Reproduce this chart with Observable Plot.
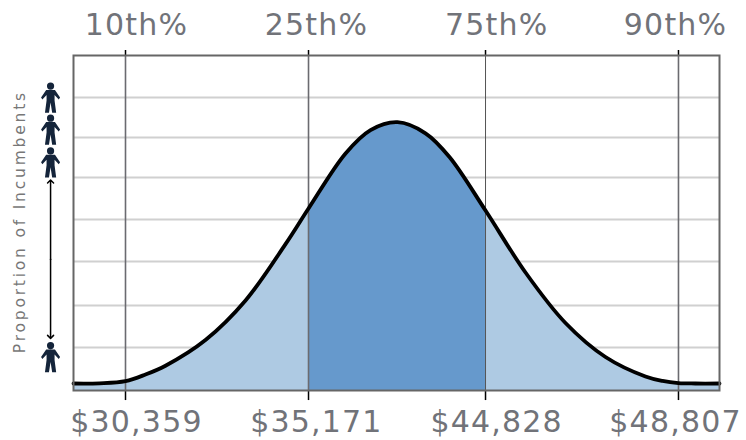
<!DOCTYPE html>
<html>
<head>
<meta charset="utf-8">
<style>
html,body{margin:0;padding:0;background:#fff;}
svg{display:block;}
.big text{letter-spacing:1.2px;}
.side text{letter-spacing:2.8px;}
</style>
<script src="https://cdn.jsdelivr.net/npm/d3@7"></script>
<script src="https://cdn.jsdelivr.net/npm/@observablehq/plot@0.6"></script>
</head>
<body>
<div id="chart"></div>
<script>
// x is position along the axis in percent, y is proportion in percent of the plot height
const curveX = [0,4.02,8.05,11.15,14.24,20.43,26.63,32.82,36.38,42.11,45.98,50.15,54.49,58.2,63.78,69.97,76.16,82.35,88.54,91.18,93.65,96.28,100];
const curveY = [2.09,2.15,2.78,4.78,7.4,15.07,26.87,43.7,54.33,70.75,77.73,80.09,76.78,69.7,53.73,35.22,20.15,10,4.18,2.84,2.21,2.09,2.09];
const gridY = [87.46,75.52,63.58,51.04,38.51,25.37,12.84];
const tickX = [8.05,36.38,63.78,93.65];
const labelX = [9.75,37.6,65.5,93.2];
const percentiles = ["10th%","25th%","75th%","90th%"];
const salaries = ["$30,359","$35,171","$44,828","$48,807"];
const personY = [87.46,77.9,68.1,10];
const arrowTop = 62.4;
const arrowBottom = 16;
const iconX = -3.55;

const curve = curveX.map((x,i)=>({x,y:curveY[i]}));
const q1 = tickX[1], q3 = tickX[2];
const labels = labelX.map((x,i)=>({x,top:percentiles[i],bottom:salaries[i]}));
const arrowMid = (arrowTop+arrowBottom)/2;

const person = {draw(c,size){
  const s = Math.sqrt(size/Math.PI)/15;
  c.moveTo(3.6*s,-11.4*s);
  c.arc(0,-11.4*s,3.6*s,0,2*Math.PI);
  c.moveTo(-4.4*s,-7.5*s);
  c.lineTo(4.4*s,-7.5*s);
  c.lineTo(9.5*s,0*s);
  c.lineTo(8.2*s,2*s);
  c.lineTo(4*s,-2.5*s);
  c.lineTo(4*s,3*s);
  c.lineTo(5.6*s,15.2*s);
  c.lineTo(1.6*s,15.2*s);
  c.lineTo(0,5*s);
  c.lineTo(-1.6*s,15.2*s);
  c.lineTo(-5.6*s,15.2*s);
  c.lineTo(-4*s,3*s);
  c.lineTo(-4*s,-2.5*s);
  c.lineTo(-8.2*s,2*s);
  c.lineTo(-9.5*s,0*s);
  c.closePath();
}};

const smooth = "catmull-rom";
const font = "'DejaVu Sans'";
const textColor = "#717379";
const chart = Plot.plot({
  width:746, height:440,
  marginLeft:73, marginRight:27, marginTop:55, marginBottom:50,
  x:{domain:[0,100],axis:null},
  y:{domain:[0,100],axis:null},
  style:{background:"#fff"},
  marks:[
    Plot.ruleY(gridY,{stroke:"#d0d0d0",strokeWidth:2}),
    Plot.areaY(curve,{x:"x",y:"y",fill:"#aecae3",curve:smooth}),
    Plot.areaY(curve,{x:"x",y:"y",fill:"#6699cc",curve:smooth,filter:d=>d.x>=q1&&d.x<=q3}),
    Plot.ruleX(tickX.filter(x=>x!==q3),{y1:0,y2:100,stroke:"#6b6b70",strokeWidth:1.6}),
    Plot.ruleX([q3],{y1:0,y2:100,stroke:"#555",strokeWidth:1}),
    Plot.ruleX(tickX,{y1:-3,y2:0,stroke:"#000",strokeWidth:1.5}),
    Plot.ruleX(tickX,{y1:100,y2:101.5,stroke:"#000",strokeWidth:1.5}),
    Plot.line(curve,{x:"x",y:"y",stroke:"#000",strokeWidth:3.8,curve:smooth}),
    Plot.frame({stroke:"#666",strokeWidth:2}),
    Plot.text(labels,{x:"x",y:109,text:"top",fontSize:30,fill:textColor,fontFamily:font,className:"big"}),
    Plot.text(labels,{x:"x",y:-9.6,text:"bottom",fontSize:30,fill:textColor,fontFamily:font,className:"big"}),
    Plot.text(["Proportion of Incumbents"],{x:-8.2,y:50.4,rotate:-90,fontSize:15.5,fill:"#777",fontFamily:font,className:"side"}),
    Plot.dot(personY,{x:iconX,y:d=>d,r:15,symbol:person,fill:"#14243a",stroke:"none"}),
    Plot.line([{x:iconX,y:arrowMid},{x:iconX,y:arrowTop}],{x:"x",y:"y",stroke:"#000",strokeWidth:1.5,markerEnd:"arrow"}),
    Plot.line([{x:iconX,y:arrowMid},{x:iconX,y:arrowBottom}],{x:"x",y:"y",stroke:"#000",strokeWidth:1.5,markerEnd:"arrow"})
  ]
});
document.getElementById("chart").append(chart);
</script>
</body>
</html>
